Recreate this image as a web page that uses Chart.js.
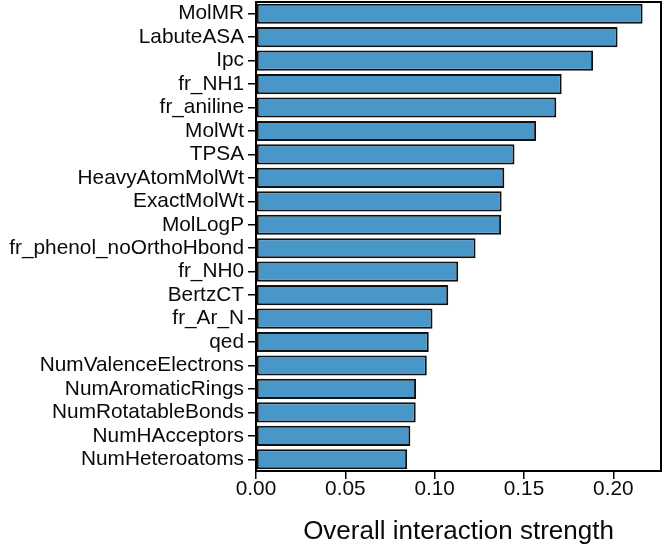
<!DOCTYPE html>
<html>
<head>
<meta charset="utf-8">
<script src="https://cdn.jsdelivr.net/npm/chart.js@4/dist/chart.umd.min.js"></script>
<style>
  html, body { margin: 0; padding: 0; background: #ffffff; }
  #wrap { width: 664px; height: 547px; }
</style>
</head>
<body>
<div id="wrap"><canvas id="c" width="664" height="547"></canvas></div>
<script>
const features = [
  "MolMR", "LabuteASA", "Ipc", "fr_NH1", "fr_aniline", "MolWt", "TPSA",
  "HeavyAtomMolWt", "ExactMolWt", "MolLogP", "fr_phenol_noOrthoHbond",
  "fr_NH0", "BertzCT", "fr_Ar_N", "qed", "NumValenceElectrons",
  "NumAromaticRings", "NumRotatableBonds", "NumHAcceptors", "NumHeteroatoms"
];
const strength = [
  0.2164, 0.2024, 0.1887, 0.1711, 0.1681, 0.1568, 0.1447,
  0.1390, 0.1375, 0.1372, 0.1229,
  0.1132, 0.1076, 0.0988, 0.0967, 0.0956,
  0.0896, 0.0894, 0.0864, 0.0846
];
const xTicks = [0.00, 0.05, 0.10, 0.15, 0.20];
const xMax = 0.2267;
const axisTitle = "Overall interaction strength";

const FONT = "Liberation Sans, Arial, sans-serif";

const framePlugin = {
  id: 'frame',
  afterDatasetsDraw(chart) {
    const a = chart.chartArea, ctx = chart.ctx;
    ctx.save();
    ctx.strokeStyle = '#000';
    ctx.lineWidth = 2;
    ctx.strokeRect(a.left, a.top, a.right - a.left, a.bottom - a.top);
    ctx.restore();
  }
};

new Chart(document.getElementById('c'), {
  type: 'bar',
  data: {
    labels: features,
    datasets: [{
      data: strength,
      backgroundColor: 'rgb(73,150,201)',
      borderColor: '#111',
      borderWidth: 2,
      borderSkipped: false,
      barPercentage: 0.86,
      categoryPercentage: 1.0
    }]
  },
  options: {
    indexAxis: 'y',
    responsive: false,
    animation: false,
    devicePixelRatio: 1,
    layout: { padding: { top: 2, right: 3, left: 0, bottom: 0 } },
    plugins: { legend: { display: false }, tooltip: { enabled: false } },
    scales: {
      x: {
        type: 'linear',
        min: 0,
        max: xMax,
        afterFit(s) { s.height = 76; },
        afterBuildTicks(s) { s.ticks = xTicks.map(v => ({ value: v })); },
        border: { display: false },
        grid: { drawOnChartArea: false, drawTicks: true, tickLength: 8, color: '#000', lineWidth: 1.5 },
        ticks: {
          color: '#0a0a0a',
          font: { family: FONT, size: 20.8 },
          padding: -2,
          callback: v => Number(v).toFixed(2)
        },
        title: {
          display: true,
          text: axisTitle,
          color: '#0a0a0a',
          font: { family: FONT, size: 26 },
          padding: { top: 4, bottom: 0 }
        }
      },
      y: {
        type: 'category',
        offset: true,
        afterFit(s) { s.width = 256; s.paddingTop = 0; s.paddingBottom = 0; },
        border: { display: false },
        grid: { offset: false, drawOnChartArea: false, drawTicks: true, tickLength: 8, color: '#000', lineWidth: 1.5 },
        ticks: {
          color: '#0a0a0a',
          font: { family: FONT, size: 20.8 },
          padding: 4,
          autoSkip: false
        }
      }
    }
  },
  plugins: [framePlugin]
});
</script>
</body>
</html>
